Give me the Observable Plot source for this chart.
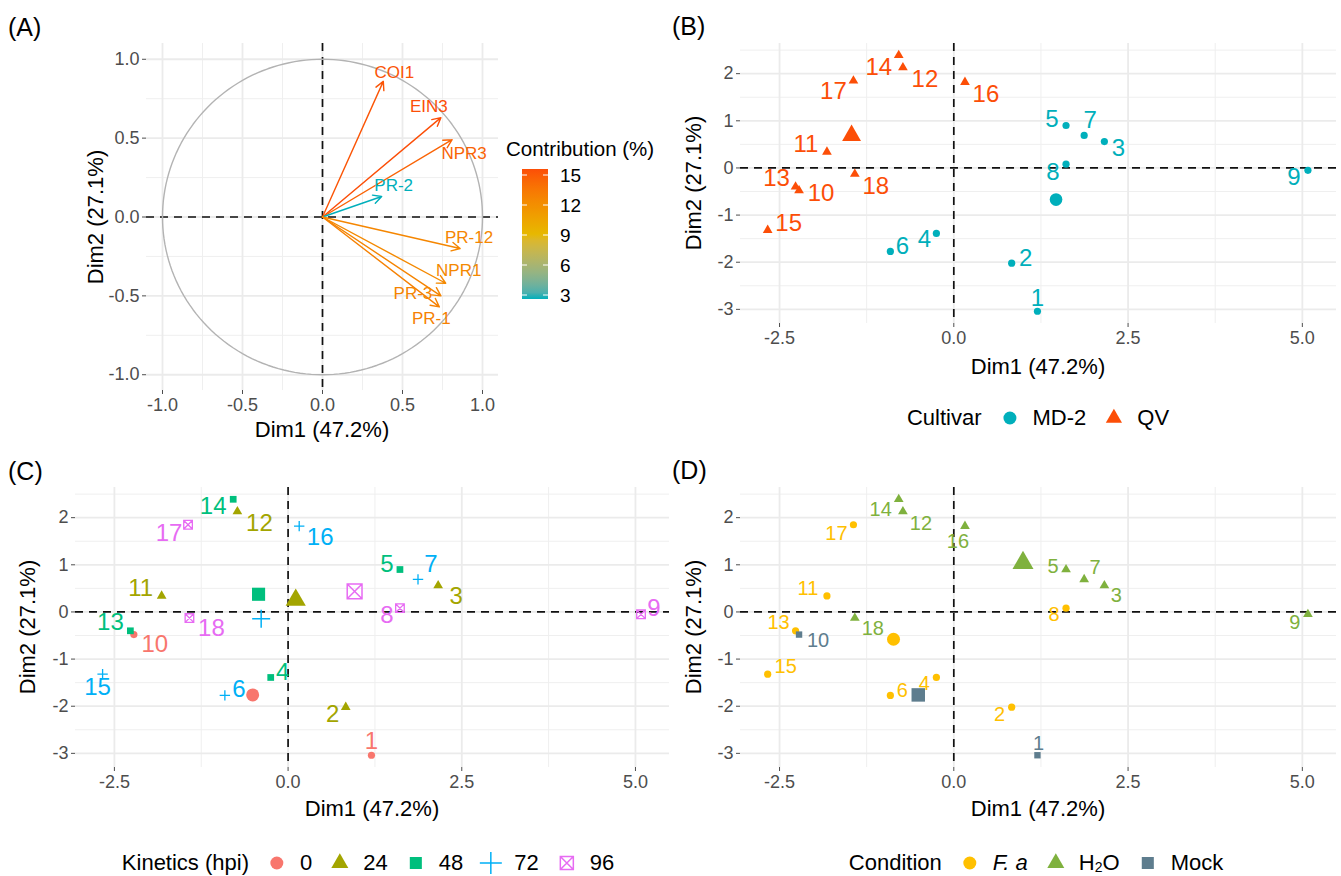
<!DOCTYPE html>
<html><head><meta charset="utf-8">
<script src="https://cdn.jsdelivr.net/npm/d3@7"></script>
<script src="https://cdn.jsdelivr.net/npm/@observablehq/plot@0.6"></script>
<style>
body{margin:0;background:#fff;}
#root{position:relative;width:1341px;height:876px;overflow:hidden;background:#fff;font-family:"Liberation Sans",Arial,Helvetica,sans-serif;}
.t{position:absolute;white-space:nowrap;line-height:1;}
.leg{position:absolute;display:flex;align-items:center;white-space:nowrap;line-height:1;font-size:22px;color:#000;transform:translate(-50%,-50%);}
.leg svg{display:block;}
</style></head><body><div id="root"></div>
<script>
// ---------------- data ----------------
// Panel A: variables (correlation circle)
const varNames   = ["COI1", "EIN3", "NPR3", "PR-2", "PR-12", "NPR1", "PR-3", "PR-1"];
const varDim1    = [0.38, 0.74, 0.81, 0.37, 0.86, 0.77, 0.74, 0.73];
const varDim2    = [0.86, 0.63, 0.49, 0.13, -0.20, -0.42, -0.50, -0.57];
const varContrib = [15.3, 15.6, 14.6, 2.6, 12.6, 12.4, 12.7, 12.9];
const contribTicks = [3, 6, 9, 12, 15];

// Panels B-D: individuals
const sampleIds = [1, 2, 3, 4, 5, 6, 7, 8, 9, 10, 11, 12, 13, 14, 15, 16, 17, 18];
const dim1 = [1.20, 0.83, 2.16, -0.25, 1.61, -0.91, 1.87, 1.61, 5.08, -2.22, -1.82, -0.73, -2.27, -0.79, -2.67, 0.16, -1.44, -1.42];
const dim2 = [-3.04, -2.02, 0.56, -1.39, 0.90, -1.77, 0.69, 0.08, -0.05, -0.48, 0.34, 2.13, -0.40, 2.39, -1.32, 1.82, 1.85, -0.13];
const cultivar  = ["MD-2","MD-2","MD-2","MD-2","MD-2","MD-2","MD-2","MD-2","MD-2","QV","QV","QV","QV","QV","QV","QV","QV","QV"];
const kinetics  = [0, 24, 24, 48, 48, 72, 72, 96, 96, 0, 24, 24, 48, 48, 72, 72, 96, 96];
const condition = ["Mock","F. a","H2O","F. a","H2O","F. a","H2O","F. a","H2O","Mock","F. a","H2O","F. a","H2O","F. a","H2O","F. a","H2O"];

const cultivarLevels  = ["MD-2", "QV"];
const kineticsLevels  = [0, 24, 48, 72, 96];
const conditionLevels = ["F. a", "H2O", "Mock"];

const ticksA = [-1, -0.5, 0, 0.5, 1];
const ticksX = [-2.5, 0, 2.5, 5];
const ticksY = [-3, -2, -1, 0, 1, 2];

// ---------------- styling / layout ----------------
const FONT = '"Liberation Sans", Arial, Helvetica, sans-serif';
const cultivarColors  = ["#00AFBB", "#FC4E07"];
const kineticsColors  = ["#F8766D", "#A3A500", "#00BF7D", "#00B0F6", "#E76BF3"];
const conditionColors = ["#FFC000", "#7FB13E", "#5E7D8E"];
const gradColors = ["#00AFBB", "#E7B800", "#FC4E07"];
const contribDomain = [2.6, 9.1, 15.6];

// label offsets (px) from point for ggrepel-like placement
const offA = [[11,-9],[-12,-11],[12,14],[12,-11],[9,-11],[13,-13],[-28,-2],[-8,12]];
const offB = [[0,-13],[14,-5],[14,7],[-12,6],[-14,-6],[12,-5],[6,-15],[-13,8],[-14,7],
              [22,3],[-21,-8],[22,12],[-19,-8],[-20,12],[21,-7],[21,12],[-20,11],[21,12]];
const offC = [[0,-14],[-13,7],[18,11],[12,-5],[-13,-5],[14,-6],[13,-15],[-13,7],[13,-6],
              [21,10],[-21,-8],[22,12],[-20,-8],[-20,7],[-5,13],[21,11],[-19,9],[22,10]];
const offD = [[1,-12],[-12,7],[12,10],[-12,6],[-13,-3],[12,-5],[11,-12],[-12,6],[-13,8],
              [19,6],[-19,-7],[18,12],[-17,-8],[-18,10],[18,-8],[-7,15],[-17,9],[18,11]];

const samples = sampleIds.map((id, i) => ({id, dim1: dim1[i], dim2: dim2[i], cultivar: cultivar[i], kinetics: kinetics[i], condition: condition[i]}));
const vars = varNames.map((name, i) => ({name, d1: varDim1[i], d2: varDim2[i], contrib: varContrib[i]}));

function centroids(key) {
  return d3.rollups(samples, v => ({x: d3.mean(v, d => d.dim1), y: d3.mean(v, d => d.dim2)}), d => d[key])
    .map(([k, c]) => ({key: k, ...c}));
}

// custom symbols
const plusSym = {draw(ctx, size) { const h = Math.sqrt(size / Math.PI); ctx.moveTo(-h, 0); ctx.lineTo(h, 0); ctx.moveTo(0, -h); ctx.lineTo(0, h); }};
const boxXSym = {draw(ctx, size) { const h = Math.sqrt(size / Math.PI); ctx.moveTo(-h,-h); ctx.lineTo(h,-h); ctx.lineTo(h,h); ctx.lineTo(-h,h); ctx.closePath(); ctx.moveTo(-h,-h); ctx.lineTo(h,h); ctx.moveTo(h,-h); ctx.lineTo(-h,h); }};

const hy = s => String(s).replace("\u2212", "-");
const fmt1 = d => hy(d3.format(".1f")(d));
const fmt0 = d => hy(d3.format("d")(d));

const root = document.getElementById("root");
function put(el, left, top) { el.style.position = "absolute"; el.style.left = left + "px"; el.style.top = top + "px"; root.appendChild(el); return el; }
function txt(html, cx, cy, {size = 22, rotate = 0, color = "#000", align = "center"} = {}) {
  const d = document.createElement("div");
  d.className = "t"; d.innerHTML = html; d.style.fontSize = size + "px"; d.style.color = color;
  d.style.left = cx + "px"; d.style.top = cy + "px";
  d.style.transform = (align === "center" ? "translate(-50%,-50%)" : "translate(0,-50%)") + (rotate ? ` rotate(${rotate}deg)` : "");
  root.appendChild(d); return d;
}

function pcaPlot({w, h, ml, mr, mt, mb, xd, yd, xt, yt, xm, ym, xf, yf, color, marks}) {
  return Plot.plot({
    width: w, height: h, marginLeft: ml, marginRight: mr, marginTop: mt, marginBottom: mb,
    x: {domain: xd}, y: {domain: yd}, color,
    style: {fontFamily: FONT, color: "#4D4D4D", background: "none", overflow: "visible"},
    marks: [
      Plot.gridX({ticks: xm, stroke: "#EFEFEF", strokeOpacity: 1, strokeWidth: 1}),
      Plot.gridY({ticks: ym, stroke: "#EFEFEF", strokeOpacity: 1, strokeWidth: 1}),
      Plot.gridX({ticks: xt, stroke: "#EBEBEB", strokeOpacity: 1, strokeWidth: 1.8}),
      Plot.gridY({ticks: yt, stroke: "#EBEBEB", strokeOpacity: 1, strokeWidth: 1.8}),
      Plot.ruleX([0], {stroke: "#111", strokeWidth: 1.7, strokeDasharray: "8,6"}),
      Plot.ruleY([0], {stroke: "#111", strokeWidth: 1.7, strokeDasharray: "8,6"}),
      ...marks,
      Plot.axisX({ticks: xt, tickFormat: xf, tickSize: 4, tickPadding: 4, fontSize: 18, label: null}),
      Plot.axisY({ticks: yt, tickFormat: yf, tickSize: 4, tickPadding: 3, fontSize: 18, label: null})
    ]
  });
}

// ---------------- Panel A ----------------
const circlePts = d3.range(0, 361, 2).map(a => ({x: Math.cos(a * Math.PI / 180), y: Math.sin(a * Math.PI / 180)}));
const colorA = {type: "linear", domain: contribDomain, range: gradColors, interpolate: "lab"};
const plotA = pcaPlot({
  w: 500, h: 420, ml: 146, mr: 2, mt: 43, mb: 30,
  xd: [-1.1, 1.1], yd: [-1.1, 1.1], xt: ticksA, yt: ticksA,
  xm: [-0.75, -0.25, 0.25, 0.75], ym: [-0.75, -0.25, 0.25, 0.75], xf: fmt1, yf: fmt1, color: colorA,
  marks: [
    Plot.line(circlePts, {x: "x", y: "y", stroke: "#B3B3B3", strokeWidth: 1.4}),
    Plot.arrow(vars, {x1: () => 0, y1: () => 0, x2: "d1", y2: "d2", stroke: "contrib", strokeWidth: 1.4, headLength: 10, headAngle: 55}),
    ...vars.map((v, i) => Plot.text([v], {x: "d1", y: "d2", text: "name", fill: "contrib", dx: offA[i][0], dy: offA[i][1], fontSize: 17, textAnchor: "middle", lineAnchor: "middle"}))
  ]
});
put(plotA, 0, 0);

// ---------------- Panels B-D ----------------
const XD = [-3.06, 5.49], YD = [-3.30, 2.64];
const XM = [-1.25, 1.25, 3.75], YM = [-2.5, -1.5, -0.5, 0.5, 1.5, 2.5];

function labelMarks(key, offs, size) {
  return samples.map((d, i) => Plot.text([d], {x: "dim1", y: "dim2", text: d => String(d.id), fill: key, dx: offs[i][0], dy: offs[i][1], fontSize: size, textAnchor: "middle", lineAnchor: "middle"}));
}

// B
const plotB = pcaPlot({
  w: 671, h: 360, ml: 70, mr: 5, mt: 43, mb: 37, xd: XD, yd: YD, xt: ticksX, yt: ticksY, xm: XM, ym: YM, xf: fmt1, yf: fmt0,
  color: {domain: cultivarLevels, range: cultivarColors},
  marks: [
    Plot.dot(samples.filter(d => d.cultivar === "MD-2"), {x: "dim1", y: "dim2", fill: "cultivar", symbol: "circle", r: 3.6}),
    Plot.dot(samples.filter(d => d.cultivar === "QV"), {x: "dim1", y: "dim2", fill: "cultivar", symbol: "triangle", r: 3.6}),
    ...labelMarks("cultivar", offB, 24),
    Plot.dot(centroids("cultivar").filter(d => d.key === "MD-2"), {x: "x", y: "y", fill: "key", symbol: "circle", r: 6.3}),
    Plot.dot(centroids("cultivar").filter(d => d.key === "QV"), {x: "x", y: "y", fill: "key", symbol: "triangle", r: 7})
  ]
});
put(plotB, 670, 0);

// C
const kinSym = {0: "circle", 24: "triangle", 48: "square", 72: plusSym, 96: boxXSym};
const kinSmallR = {0: 3.6, 24: 3.6, 48: 3.8, 72: 5.2, 96: 4.3};
const kinBigR = {0: 6.5, 24: 7.5, 48: 7.4, 72: 9, 96: 7.4};
const kinStroke = {72: true, 96: true};
const centC = centroids("kinetics");
const plotC = pcaPlot({
  w: 670, h: 360, ml: 75, mr: 1, mt: 43, mb: 37, xd: XD, yd: YD, xt: ticksX, yt: ticksY, xm: XM, ym: YM, xf: fmt1, yf: fmt0,
  color: {type: "ordinal", domain: kineticsLevels, range: kineticsColors},
  marks: [
    ...kineticsLevels.map(k => Plot.dot(samples.filter(d => d.kinetics === k), kinStroke[k]
      ? {x: "dim1", y: "dim2", stroke: "kinetics", fill: "none", strokeWidth: 1.3, symbol: kinSym[k], r: kinSmallR[k]}
      : {x: "dim1", y: "dim2", fill: "kinetics", symbol: kinSym[k], r: kinSmallR[k]})),
    ...labelMarks("kinetics", offC, 24),
    ...kineticsLevels.map(k => Plot.dot(centC.filter(d => d.key === k), kinStroke[k]
      ? {x: "x", y: "y", stroke: "key", fill: "none", strokeWidth: 1.5, symbol: kinSym[k], r: kinBigR[k]}
      : {x: "x", y: "y", fill: "key", symbol: kinSym[k], r: kinBigR[k]}))
  ]
});
put(plotC, 0, 444);

// D
const condSym = {"F. a": "circle", "H2O": "triangle", "Mock": "square"};
const condSmallR = {"F. a": 3.6, "H2O": 3.6, "Mock": 3.6};
const condBigR = {"F. a": 6.5, "H2O": 7.8, "Mock": 7.6};
const centD = centroids("condition");
const plotD = pcaPlot({
  w: 671, h: 360, ml: 70, mr: 5, mt: 43, mb: 37, xd: XD, yd: YD, xt: ticksX, yt: ticksY, xm: XM, ym: YM, xf: fmt1, yf: fmt0,
  color: {type: "ordinal", domain: conditionLevels, range: conditionColors},
  marks: [
    ...conditionLevels.map(c => Plot.dot(samples.filter(d => d.condition === c), {x: "dim1", y: "dim2", fill: "condition", symbol: condSym[c], r: condSmallR[c]})),
    ...labelMarks("condition", offD, 20),
    ...conditionLevels.map(c => Plot.dot(centD.filter(d => d.key === c), {x: "x", y: "y", fill: "key", symbol: condSym[c], r: condBigR[c]}))
  ]
});
put(plotD, 670, 444);

// ---------------- titles ----------------
txt("(A)", 8, 27, {size: 25, align: "left"});
txt("(B)", 672, 26, {size: 25, align: "left"});
txt("(C)", 8, 471, {size: 25, align: "left"});
txt("(D)", 672, 470, {size: 25, align: "left"});

const xTitle = "Dim1 (47.2%)", yTitle = "Dim2 (27.1%)";
txt(xTitle, 322, 430); txt(yTitle, 96, 217, {rotate: -90});
txt(xTitle, 1038, 367); txt(yTitle, 694, 183, {rotate: -90});
txt(xTitle, 372, 809); txt(yTitle, 28, 627, {rotate: -90});
txt(xTitle, 1038, 809); txt(yTitle, 694, 627, {rotate: -90});

// ---------------- legend A (colorbar) ----------------
txt("Contribution (%)", 506, 149, {size: 20.5, align: "left"});
(function () {
  const cs = d3.scaleLinear().domain(contribDomain).range(gradColors).interpolate(d3.interpolateLab);
  const ys = d3.scaleLinear().domain([contribDomain[0], contribDomain[2]]).range([130, 0]);
  const svg = d3.create("svg").attr("width", 26).attr("height", 130);
  const grad = svg.append("defs").append("linearGradient").attr("id", "cg").attr("x1", 0).attr("x2", 0).attr("y1", 1).attr("y2", 0);
  d3.range(0, 1.0001, 0.05).forEach(t => grad.append("stop").attr("offset", t).attr("stop-color", cs(contribDomain[0] + t * (contribDomain[2] - contribDomain[0]))));
  svg.append("rect").attr("width", 26).attr("height", 130).attr("fill", "url(#cg)");
  contribTicks.forEach(v => {
    svg.append("line").attr("x1", 0).attr("x2", 5).attr("y1", ys(v)).attr("y2", ys(v)).attr("stroke", "#fff").attr("stroke-width", 1);
    svg.append("line").attr("x1", 21).attr("x2", 26).attr("y1", ys(v)).attr("y2", ys(v)).attr("stroke", "#fff").attr("stroke-width", 1);
    txt(String(v), 560, 169 + ys(v), {size: 19, align: "left"});
  });
  put(svg.node(), 522, 169);
})();

// ---------------- legends B-D ----------------
function symSvg(sym, color, r, stroke) {
  const p = d3.path();
  const s = typeof sym === "string" ? {circle: d3.symbolCircle, triangle: d3.symbolTriangle, square: d3.symbolSquare}[sym] : sym;
  s.draw(p, Math.PI * r * r);
  const attr = stroke ? `fill="none" stroke="${color}" stroke-width="1.5"` : `fill="${color}"`;
  return `<svg width="26" height="26"><path d="${p}" ${attr} transform="translate(13,13)"/></svg>`;
}
function legend(cx, cy, title, items) {
  const d = document.createElement("div");
  d.className = "leg"; d.style.left = cx + "px"; d.style.top = cy + "px";
  let html = `<span style="margin-right:15px">${title}</span>`;
  items.forEach((it, i) => { html += `<span style="margin:0 10px 0 0">${it.svg}</span><span style="margin-right:${i < items.length - 1 ? 15 : 0}px">${it.label}</span>`; });
  d.innerHTML = html; root.appendChild(d);
}
legend(1038, 418, "Cultivar", cultivarLevels.map((c, i) => ({svg: symSvg(c === "QV" ? "triangle" : "circle", cultivarColors[i], c === "QV" ? 6 : 6.5), label: c})));
legend(368, 863, "Kinetics (hpi)", kineticsLevels.map((k, i) => ({svg: symSvg(kinSym[k], kineticsColors[i], {0: 6.5, 24: 6.3, 48: 6.8, 72: 11, 96: 6.5}[k], !!kinStroke[k]), label: String(k)})));
const condLabel = {"F. a": "<i>F. a</i>", "H2O": 'H<span style="font-size:14px;position:relative;top:2px">2</span>O', "Mock": "Mock"};
legend(1036, 863, "Condition", conditionLevels.map((c, i) => ({svg: symSvg(condSym[c], conditionColors[i], {"F. a": 6.5, "H2O": 6.3, "Mock": 6.8}[c]), label: condLabel[c]})));
</script></body></html>
